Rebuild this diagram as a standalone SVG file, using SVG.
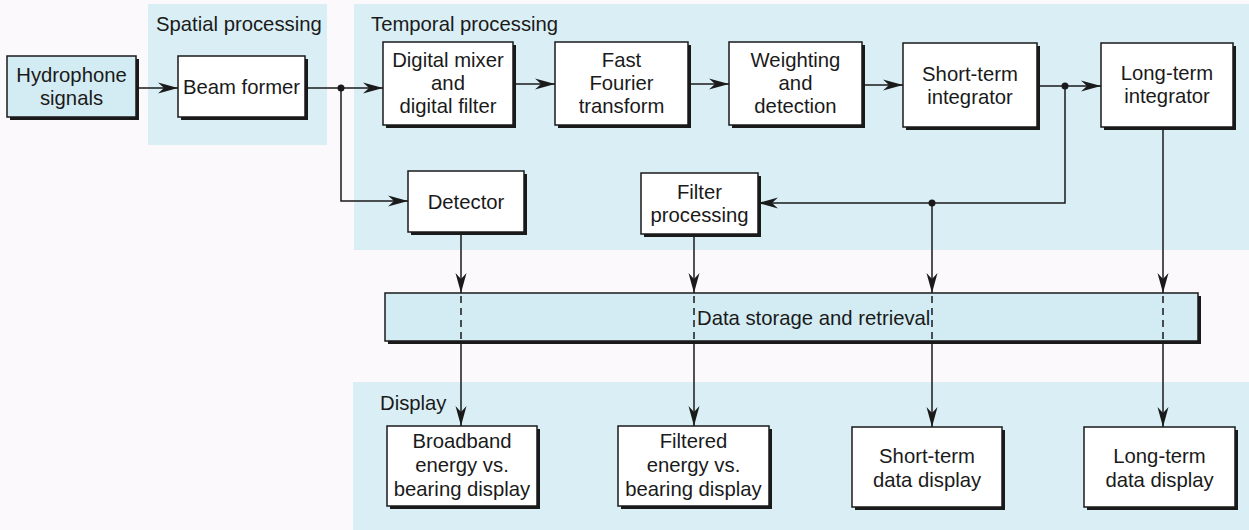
<svg xmlns="http://www.w3.org/2000/svg" width="1249" height="530" viewBox="0 0 1249 530">
<defs>
<style>
.bg{fill:#daeff5}
.sh{fill:#1a1a1a}
.box{fill:#ffffff;stroke:#1a1a1a;stroke-width:1.5}
.bbox{fill:#d3ecf3;stroke:#1a1a1a;stroke-width:1.5}
text{font-family:"Liberation Sans",Arial,sans-serif;font-size:20.3px;fill:#1a1a1a}
.c{text-anchor:middle}
.ln{fill:none;stroke:#1a1a1a;stroke-width:1.5}
.dash{fill:none;stroke:#1a1a1a;stroke-width:1.5;stroke-dasharray:7,5}
</style>
<marker id="ah" markerUnits="userSpaceOnUse" markerWidth="22" markerHeight="12" refX="20" refY="6" orient="auto">
<path d="M0,0.5 L20,6 L0,11.5 L6,6 Z" fill="#1a1a1a"/>
</marker>
</defs>
<rect width="1249" height="530" fill="#fbf9fb"/>
<g id="regions">
<rect class="bg" x="148" y="4" width="179" height="141"/>
<rect class="bg" x="354" y="4" width="895" height="246"/>
<rect class="bg" x="353" y="382" width="896" height="148"/>
<text x="156" y="31">Spatial processing</text>
<text x="371" y="31">Temporal processing</text>
<text x="380" y="410">Display</text>
</g>
<g id="data-storage">
<rect class="sh" x="388" y="296" width="813" height="48"/>
<rect class="bbox" x="385" y="293" width="813" height="48"/>
<text x="697" y="325">Data storage and retrieval</text>
</g>
<g id="hydrophone">
<rect class="sh" x="10" y="59" width="129" height="61"/>
<rect class="bbox" x="7" y="56" width="129" height="61"/>
<text class="c" x="71.5" y="82">Hydrophone</text>
<text class="c" x="71.5" y="105">signals</text>
</g>
<g id="beam-former">
<rect class="sh" x="181" y="59" width="127" height="61"/>
<rect class="box" x="178" y="56" width="127" height="61"/>
<text class="c" x="241.5" y="94">Beam former</text>
</g>
<g id="digital-mixer">
<rect class="sh" x="386" y="45" width="130" height="83"/>
<rect class="box" x="383" y="42" width="130" height="83"/>
<text class="c" x="448" y="67">Digital mixer</text>
<text class="c" x="448" y="90">and</text>
<text class="c" x="448" y="113">digital filter</text>
</g>
<g id="fft">
<rect class="sh" x="558" y="45" width="133" height="83"/>
<rect class="box" x="555" y="42" width="133" height="83"/>
<text class="c" x="621.5" y="67">Fast</text>
<text class="c" x="621.5" y="90">Fourier</text>
<text class="c" x="621.5" y="113">transform</text>
</g>
<g id="weighting">
<rect class="sh" x="732" y="45" width="133" height="83"/>
<rect class="box" x="729" y="42" width="133" height="83"/>
<text class="c" x="795.5" y="67">Weighting</text>
<text class="c" x="795.5" y="90">and</text>
<text class="c" x="795.5" y="113">detection</text>
</g>
<g id="short-term-integrator">
<rect class="sh" x="906" y="46" width="134" height="84"/>
<rect class="box" x="903" y="43" width="134" height="84"/>
<text class="c" x="970" y="81">Short-term</text>
<text class="c" x="970" y="104">integrator</text>
</g>
<g id="long-term-integrator">
<rect class="sh" x="1104" y="46" width="132" height="84"/>
<rect class="box" x="1101" y="43" width="132" height="84"/>
<text class="c" x="1167" y="80">Long-term</text>
<text class="c" x="1167" y="103">integrator</text>
</g>
<g id="detector">
<rect class="sh" x="411" y="174" width="116" height="61"/>
<rect class="box" x="408" y="171" width="116" height="61"/>
<text class="c" x="466" y="209">Detector</text>
</g>
<g id="filter-processing">
<rect class="sh" x="644" y="176" width="117" height="61"/>
<rect class="box" x="641" y="173" width="117" height="61"/>
<text class="c" x="699.5" y="199">Filter</text>
<text class="c" x="699.5" y="222">processing</text>
</g>
<g id="broadband-display">
<rect class="sh" x="390" y="429" width="150" height="80"/>
<rect class="box" x="387" y="426" width="150" height="80"/>
<text class="c" x="462" y="448">Broadband</text>
<text class="c" x="462" y="472">energy vs.</text>
<text class="c" x="462" y="496">bearing display</text>
</g>
<g id="filtered-display">
<rect class="sh" x="621" y="429" width="151" height="80"/>
<rect class="box" x="618" y="426" width="151" height="80"/>
<text class="c" x="693.5" y="448">Filtered</text>
<text class="c" x="693.5" y="472">energy vs.</text>
<text class="c" x="693.5" y="496">bearing display</text>
</g>
<g id="short-term-display">
<rect class="sh" x="855" y="430" width="150" height="80"/>
<rect class="box" x="852" y="427" width="150" height="80"/>
<text class="c" x="927" y="463">Short-term</text>
<text class="c" x="927" y="487">data display</text>
</g>
<g id="long-term-display">
<rect class="sh" x="1087" y="430" width="151" height="80"/>
<rect class="box" x="1084" y="427" width="151" height="80"/>
<text class="c" x="1159.5" y="463">Long-term</text>
<text class="c" x="1159.5" y="487">data display</text>
</g>
<g id="connectors">
<path class="ln" d="M136,88 H178" marker-end="url(#ah)"/>
<path class="ln" d="M305,88 H383" marker-end="url(#ah)"/>
<path class="ln" d="M341,88 V201 H408" marker-end="url(#ah)"/>
<circle cx="341" cy="88" r="3.5" fill="#1a1a1a"/>
<path class="ln" d="M513,84 H555" marker-end="url(#ah)"/>
<path class="ln" d="M688,84 H729" marker-end="url(#ah)"/>
<path class="ln" d="M862,85 H903" marker-end="url(#ah)"/>
<path class="ln" d="M1037,86 H1101" marker-end="url(#ah)"/>
<circle cx="1065" cy="86" r="3.5" fill="#1a1a1a"/>
<path class="ln" d="M1065,86 V203 H758" marker-end="url(#ah)"/>
<circle cx="932" cy="203" r="3.5" fill="#1a1a1a"/>
<path class="ln" d="M461,232 V293" marker-end="url(#ah)"/>
<path class="dash" d="M461,296 V341"/>
<path class="ln" d="M461,341 V426" marker-end="url(#ah)"/>
<path class="ln" d="M694,234 V293" marker-end="url(#ah)"/>
<path class="dash" d="M694,296 V341"/>
<path class="ln" d="M694,341 V426" marker-end="url(#ah)"/>
<path class="ln" d="M932,203 V293" marker-end="url(#ah)"/>
<path class="dash" d="M932,296 V341"/>
<path class="ln" d="M932,341 V427" marker-end="url(#ah)"/>
<path class="ln" d="M1163,127 V293" marker-end="url(#ah)"/>
<path class="dash" d="M1163,296 V341"/>
<path class="ln" d="M1163,341 V427" marker-end="url(#ah)"/>
</g>
</svg>
